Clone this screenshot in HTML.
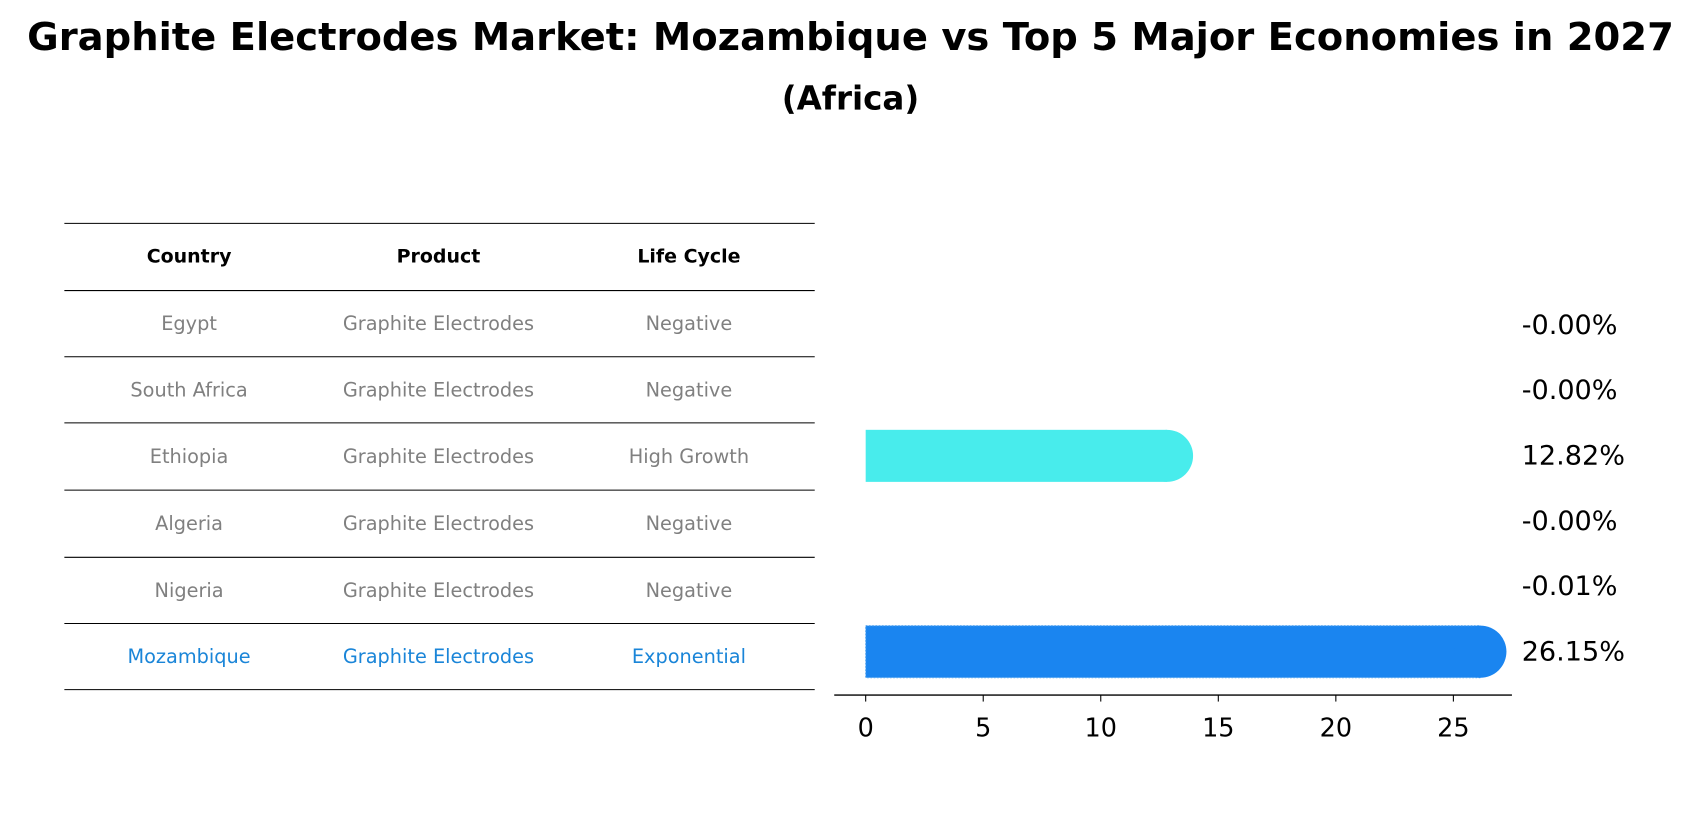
<!DOCTYPE html>
<html><head><meta charset="utf-8"><style>
html,body{margin:0;padding:0;background:#fff;}
svg{display:block;font-family:"DejaVu Sans","Liberation Sans",sans-serif;}
</style></head><body>
<svg width="1701" height="823" viewBox="0 0 1568 759">
<text x="784" y="46" text-anchor="middle" font-size="35.5" font-weight="bold">Graphite Electrodes Market: Mozambique vs Top 5 Major Economies in 2027</text>
<text x="784" y="101" text-anchor="middle" font-size="30" font-weight="bold">(Africa)</text>
<g id="table"></g>
<g id="bars"></g>
</svg>
<script>
const countries=["Egypt","South Africa","Ethiopia","Algeria","Nigeria","Mozambique"];
const products=["Graphite Electrodes","Graphite Electrodes","Graphite Electrodes","Graphite Electrodes","Graphite Electrodes","Graphite Electrodes"];
const lifeCycles=["Negative","Negative","High Growth","Negative","Negative","Exponential"];
const values=[-0.001,-0.001,12.82,-0.001,-0.01,26.15];
const valueLabels=["-0.00%","-0.00%","12.82%","-0.00%","-0.01%","26.15%"];
const xTicks=[0,5,10,15,20,25];
const NS="http://www.w3.org/2000/svg";
function mk(tag,attrs,parent){const e=document.createElementNS(NS,tag);for(const k in attrs)e.setAttribute(k,attrs[k]);parent.appendChild(e);return e;}
const tbl=document.getElementById('table');
const lineYs=[206,268,329,390,452,514,575,636];
lineYs.forEach((y,i)=>{const l=mk('line',{x1:59,x2:751,y1:y,y2:y,stroke:'#000','stroke-width':1},tbl);

});
const colX=[174,404,635];
["Country","Product","Life Cycle"].forEach((h,i)=>{const t=mk('text',{x:colX[i],y:242,'text-anchor':'middle','font-size':17.5,'font-weight':'bold'},tbl);t.textContent=h;

});
countries.forEach((c,r)=>{const y=(lineYs[r+1]+lineYs[r+2])/2+6;const col=r===5?'#1a85d8':'#808080';
[c,products[r],lifeCycles[r]].forEach((v,i)=>{const t=mk('text',{x:colX[i],y:y,'text-anchor':'middle','font-size':17.8,fill:col},tbl);t.textContent=v;

});});
const g=document.getElementById('bars');
const x0=798,pxPer=(1340-798)/25;
const xs=v=>x0+v*pxPer;
const rowY=i=>300+i*60.2;
const barH=48;
const colors=["#48ECEC","#48ECEC","#48ECEC","#48ECEC","#48ECEC","#1A85F0"];
values.forEach((v,i)=>{const cy=rowY(i);
if(v>0){const r=mk('rect',{x:x0,y:cy-barH/2,width:xs(v)-x0,height:barH,fill:colors[i]},g);
if(i===5){r.setAttribute('stroke','#5aa8f0');r.setAttribute('stroke-dasharray','1.5,1.5');r.setAttribute('stroke-width','1');}


const c=mk('circle',{cx:xs(v),cy:cy,r:barH/2,fill:colors[i]},g);

}
const t=mk('text',{x:1403,y:cy+8,'font-size':25},g);t.textContent=valueLabels[i];

});
const ax=mk('line',{x1:769,x2:1394,y1:641,y2:641,stroke:'#000','stroke-width':1.3},g);


xTicks.forEach(v=>{const l=mk('line',{x1:xs(v),x2:xs(v),y1:641,y2:647,stroke:'#000'},g);


const t=mk('text',{x:xs(v),y:679,'text-anchor':'middle','font-size':23.5},g);t.textContent=v;

});
</script>
</body></html>
